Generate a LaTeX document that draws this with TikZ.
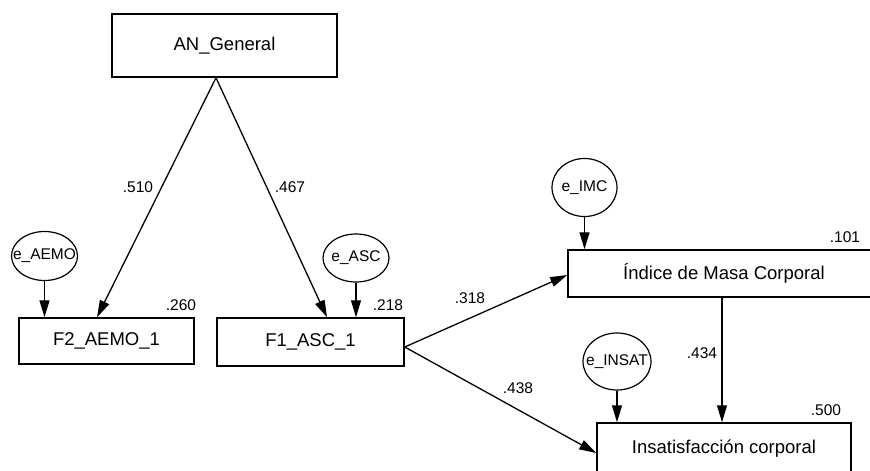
\documentclass[tikz,border=0pt]{standalone}
\usepackage{fontspec}
\setmainfont{Liberation Sans}
\usetikzlibrary{arrows.meta,shapes.geometric}
\tikzset{
  box/.style={draw, line width=1.5pt, rectangle, inner sep=0pt, font=\fontsize{18.5}{22}\selectfont},
  err/.style={draw, line width=1.2pt, ellipse, inner sep=0pt, font=\fontsize{15.5}{18}\selectfont},
  coef/.style={inner sep=0pt, font=\fontsize{15.5}{18}\selectfont},
  path/.style={line width=1.3pt, -{Triangle[length=17pt,width=10pt]}}
}
\begin{document}
\begin{tikzpicture}[x=1pt,y=-1pt]
\useasboundingbox (0,0) rectangle (870,471);
\clip (0,0) rectangle (870,471);
% boxes
\node[box, minimum width=225pt, minimum height=63pt] (an) at (224.5,45.5) {AN\_General};
\node[box, minimum width=175pt, minimum height=46pt] (f2) at (106.5,341) {F2\_AEMO\_1};
\node[box, minimum width=187pt, minimum height=48pt] (f1) at (310.5,342) {F1\_ASC\_1};
\node[box, minimum width=312pt, minimum height=47pt] (imc) at (724,273.5) {Índice de Masa Corporal};
\node[box, minimum width=254pt, minimum height=51pt] (ins) at (724,448.5) {\raisebox{2pt}{Insatisfacción corporal}};
% error terms
\node[err, minimum width=66pt, minimum height=49pt] (eaemo) at (44.5,256) {\makebox[0pt]{e\_AEMO}};
\node[err, minimum width=66pt, minimum height=48pt] (easc) at (356,258) {\makebox[0pt]{e\_ASC}};
\node[err, minimum width=65pt, minimum height=58pt] (eimc) at (584.5,187.5) {\makebox[0pt]{e\_IMC}};
\node[err, minimum width=68pt, minimum height=57pt] (eins) at (617,361.5) {\makebox[0pt]{e\_INSAT}};
% paths
\coordinate (apex) at ([xshift=-8.5pt]an.south);
\draw[path] (apex) -- ([xshift=-9.5pt]f2.north);
\draw[path] (apex) -- ([xshift=16.5pt]f1.north);
\draw[path] (eaemo.south) -- (eaemo.south |- f2.north);
\draw[path] (easc.south) -- (easc.south |- f1.north);
\draw[path] (eimc.south) -- (eimc.south |- imc.north);
\draw[path] (eins.south) -- (eins.south |- ins.north);
\coordinate (f1out) at ([yshift=-5pt]f1.east);
\draw[path] (f1out) -- ([yshift=-1.5pt]imc.west);
\draw[path] (f1out) -- ([yshift=-4.5pt]ins.west);
\draw[path] ([xshift=-2pt]imc.south) -- ([xshift=-2pt]ins.north);
% coefficients
\node[coef] (c510) at (138,187) {.510};
\node[coef] (c467) at (290,187) {.467};
\node[coef] (c260) at (181,305) {.260};
\node[coef] (c218) at (388,305) {.218};
\node[coef] (c318) at (470,298) {.318};
\node[coef] (c438) at (518,388) {.438};
\node[coef] (c101) at (845,237) {.101};
\node[coef] (c434) at (702,353) {.434};
\node[coef] (c500) at (826,410) {.500};
\end{tikzpicture}
\end{document}
